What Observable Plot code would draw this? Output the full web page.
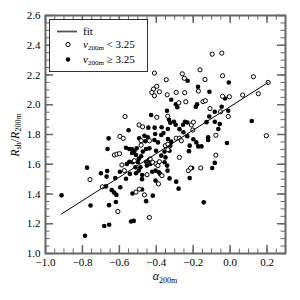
<!DOCTYPE html>
<html><head><meta charset="utf-8">
<script src="https://cdn.jsdelivr.net/npm/d3@7"></script>
<script src="https://cdn.jsdelivr.net/npm/@observablehq/plot@0.6"></script>
<style>
body{margin:0;background:#fff}
#chart{position:relative;width:300px;height:300px}
svg{font-family:"Liberation Serif",serif}
</style>
</head><body><div id="chart"></div>
<script>
// nu_200m < 3.25 (open circles)
const openX = [-0.097,-0.045,-0.410,-0.346,-0.259,-0.248,-0.163,-0.136,-0.041,0.126,0.206,-0.415,-0.397,-0.424,-0.410,-0.383,-0.341,-0.292,-0.246,-0.172,-0.041,-0.004,0.068,0.153,-0.240,-0.147,-0.134,-0.109,-0.052,-0.010,-0.077,0.196,-0.338,-0.397,-0.569,-0.493,-0.474,-0.210,-0.199,-0.292,-0.275,-0.264,-0.597,-0.579,-0.482,-0.437,-0.351,-0.337,-0.337,-0.627,-0.613,-0.599,-0.586,-0.573,-0.759,-0.692,-0.608,-0.510,-0.492,-0.464,-0.437,-0.519,-0.433,-0.419,-0.401,-0.391,-0.383,-0.369,-0.388,-0.275,-0.226,-0.214,-0.159,-0.077,-0.450,-0.202,-0.482,-0.278];
const openY = [2.340,2.347,2.213,2.168,2.208,2.178,2.235,2.170,2.195,2.188,2.150,2.105,2.124,2.083,2.060,2.087,2.067,2.083,2.081,2.092,2.057,2.054,2.065,2.074,2.020,2.021,2.027,1.974,1.953,1.921,1.795,1.792,1.923,1.916,1.921,1.864,1.852,1.864,1.883,1.775,1.775,1.758,1.787,1.774,1.758,1.758,1.725,1.735,1.698,1.662,1.668,1.671,1.595,1.557,1.497,1.448,1.282,1.413,1.433,1.394,1.242,1.624,1.636,1.613,1.602,1.591,1.617,1.523,1.468,1.646,1.557,1.574,1.575,1.661,1.530,1.830,1.728,2.013];
// nu_200m >= 3.25 (filled circles)
const filledX = [-0.230,-0.007,-0.174,-0.112,-0.028,-0.319,-0.294,-0.286,-0.186,-0.179,-0.046,-0.083,-0.010,-0.113,-0.083,-0.056,-0.064,-0.119,-0.119,-0.017,0.117,-0.342,-0.331,-0.324,-0.304,-0.428,-0.550,-0.443,-0.409,-0.371,-0.361,-0.295,-0.255,-0.245,-0.232,-0.337,-0.274,-0.253,-0.232,-0.199,-0.183,-0.658,-0.492,-0.464,-0.446,-0.459,-0.410,-0.391,-0.337,-0.319,-0.406,-0.373,-0.173,-0.155,-0.219,-0.664,-0.564,-0.546,-0.531,-0.519,-0.506,-0.455,-0.437,-0.401,-0.324,-0.328,-0.373,-0.350,-0.510,-0.482,-0.531,-0.473,-0.355,-0.223,-0.528,-0.500,-0.546,-0.495,-0.455,-0.440,-0.433,-0.451,-0.355,-0.341,-0.422,-0.404,-0.386,-0.379,-0.339,-0.404,-0.292,-0.279,-0.219,-0.206,-0.097,-0.083,-0.143,-0.328,-0.476,-0.477,-0.564,-0.513,-0.495,-0.543,-0.510,-0.486,-0.559,-0.597,-0.775,-0.700,-0.666,-0.669,-0.622,-0.673,-0.641,-0.628,-0.616,-0.619,-0.595,-0.913,-0.756,-0.656,-0.682,-0.655,-0.786,-0.529,-0.477,-0.455,-0.419,-0.537,-0.522,-0.128];
const filledY = [2.161,2.150,2.121,2.087,2.042,2.034,2.003,1.983,1.987,2.003,1.987,1.953,1.960,1.921,1.886,1.870,1.837,1.781,1.763,1.743,1.891,1.960,1.899,1.879,1.886,1.931,1.829,1.846,1.846,1.849,1.810,1.866,1.866,1.886,1.881,1.837,1.836,1.815,1.789,1.768,1.747,1.774,1.774,1.792,1.781,1.755,1.763,1.747,1.770,1.752,1.803,1.797,1.720,1.720,1.725,1.703,1.711,1.703,1.701,1.688,1.707,1.703,1.707,1.691,1.725,1.691,1.658,1.646,1.662,1.653,1.676,1.685,1.685,1.688,1.613,1.613,1.617,1.636,1.617,1.629,1.602,1.591,1.613,1.591,1.550,1.557,1.546,1.535,1.557,1.490,1.483,1.436,1.507,1.575,1.575,1.609,1.344,1.505,1.528,1.500,1.503,1.579,1.557,1.535,1.539,1.579,1.602,1.550,1.577,1.540,1.555,1.517,1.507,1.451,1.426,1.409,1.394,1.346,1.445,1.391,1.323,1.325,1.185,1.193,1.119,1.403,1.430,1.352,1.389,1.215,1.219,1.883];
// fit line endpoints
const fitX = [-0.913, 0.206];
const fitY = [1.266, 2.150];
// ticks
const xMajor = [-1.0,-0.8,-0.6,-0.4,-0.2,0.0,0.2];
const yMajor = [1.0,1.2,1.4,1.6,1.8,2.0,2.2,2.4,2.6];
const xMinor = d3.range(-20, 7).map(i => i * 0.05);
const yMinor = d3.range(20, 53).map(i => i * 0.05);

const openPts = openX.map((x, i) => ({x, y: openY[i]}));
const filledPts = filledX.map((x, i) => ({x, y: filledY[i]}));
const fitPts = fitX.map((x, i) => ({x, y: fitY[i]}));

const W = 300, H = 300, mL = 45, mR = 15, mT = 15, mB = 47;
const iw = W - mL - mR, ih = H - mT - mB;
const tc = "#666";
const major = 8, minor = 4.5;

const plot = Plot.plot({
  width: W, height: H,
  marginLeft: mL, marginRight: mR, marginTop: mT, marginBottom: mB,
  style: {fontFamily: "Liberation Serif", fontSize: "11px", background: "white", color: "black"},
  x: {domain: [-1.0, 0.3]},
  y: {domain: [1.0, 2.6]},
  marks: [
    Plot.dot(filledPts, {x: "x", y: "y", r: 2.3, fill: "black", stroke: "none"}),
    Plot.dot(openPts, {x: "x", y: "y", r: 2.1, fill: "white", stroke: "black", strokeWidth: 1}),
    Plot.line(fitPts, {x: "x", y: "y", stroke: "black", strokeWidth: 1}),
    // minor ticks
    Plot.tickX(xMinor, {x: d => d, insetTop: ih - minor, stroke: tc, strokeWidth: 1}),
    Plot.tickX(xMinor, {x: d => d, insetBottom: ih - minor, stroke: tc, strokeWidth: 1}),
    Plot.tickY(yMinor, {y: d => d, insetRight: iw - minor, stroke: tc, strokeWidth: 1}),
    Plot.tickY(yMinor, {y: d => d, insetLeft: iw - minor, stroke: tc, strokeWidth: 1}),
    // major ticks
    Plot.tickX(xMajor, {x: d => d, insetTop: ih - major, stroke: tc, strokeWidth: 1.5}),
    Plot.tickX(xMajor, {x: d => d, insetBottom: ih - major, stroke: tc, strokeWidth: 1.5}),
    Plot.tickY(yMajor, {y: d => d, insetRight: iw - major, stroke: tc, strokeWidth: 1.5}),
    Plot.tickY(yMajor, {y: d => d, insetLeft: iw - major, stroke: tc, strokeWidth: 1.5}),
    Plot.frame({stroke: tc, strokeWidth: 2}),
    Plot.axisX({ticks: xMajor, tickSize: 0, tickPadding: 5, tickFormat: d3.format(".1f"), label: null, fontSize: 11}),
    Plot.axisY({ticks: yMajor, tickSize: 0, tickPadding: 5, tickFormat: d3.format(".1f"), label: null, fontSize: 11})
  ]
});
document.getElementById("chart").appendChild(plot);

const svg = d3.select(plot);
// y label
const yl = svg.append("text")
  .attr("transform", "translate(19,135) rotate(-90)")
  .attr("text-anchor", "middle").attr("font-size", 12).attr("fill", "black");
yl.append("tspan").attr("font-style", "italic").text("R");
yl.append("tspan").attr("font-size", 8).attr("dy", 2).text("sh");
yl.append("tspan").attr("dy", -2).text("/");
yl.append("tspan").attr("font-style", "italic").text("R");
yl.append("tspan").attr("font-size", 8).attr("dy", 2).text("200m");
// x label
const xl = svg.append("text")
  .attr("x", 165).attr("y", 280)
  .attr("text-anchor", "middle").attr("font-size", 12).attr("fill", "black");
xl.append("tspan").attr("font-style", "italic").text("α");
xl.append("tspan").attr("font-size", 8).attr("dy", 2.5).text("200m");

// legend
const lg = svg.append("g").attr("text-anchor", "start");
lg.append("rect").attr("x", 49.5).attr("y", 19.5).attr("width", 98).attr("height", 52)
  .attr("fill", "white").attr("stroke", "#333").attr("stroke-width", 1);
lg.append("line").attr("x1", 57).attr("x2", 77).attr("y1", 31.5).attr("y2", 31.5)
  .attr("stroke", "#555").attr("stroke-width", 1.8);
lg.append("text").attr("x", 83).attr("y", 35).attr("font-size", 11)
  .attr("text-anchor", "start").text("fit");
lg.append("circle").attr("cx", 68).attr("cy", 44.5).attr("r", 2.1)
  .attr("fill", "white").attr("stroke", "black");
lg.append("circle").attr("cx", 68).attr("cy", 59.5).attr("r", 2.3).attr("fill", "black");
function nuLabel(y, rel) {
  const t = lg.append("text").attr("x", 83).attr("y", y).attr("font-size", 11)
    .attr("text-anchor", "start");
  t.append("tspan").attr("font-style", "italic").text("ν");
  t.append("tspan").attr("font-size", 7).attr("dy", 2).text("200m");
  t.append("tspan").attr("dy", -2).text(" " + rel + " 3.25");
}
nuLabel(48, "<");
nuLabel(63, "≥");
</script>
</body></html>
